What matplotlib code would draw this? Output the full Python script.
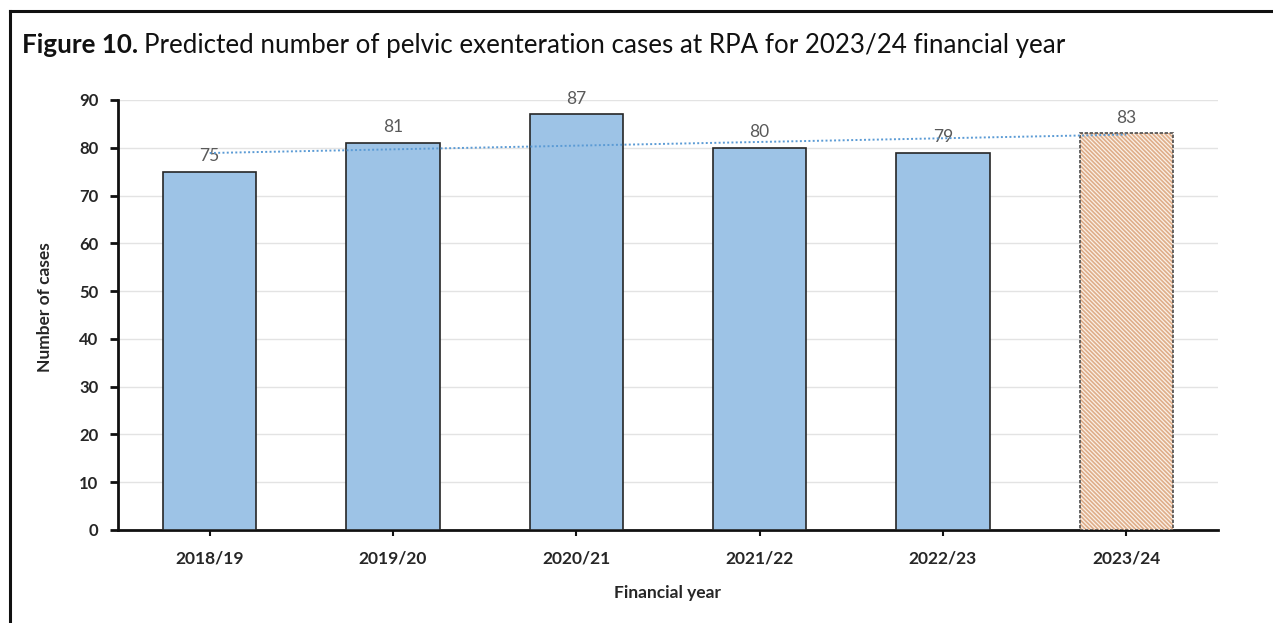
import numpy as np
import matplotlib
matplotlib.use("Agg")
import matplotlib.pyplot as plt
from matplotlib.lines import Line2D

years = ["2018/19", "2019/20", "2020/21", "2021/22", "2022/23", "2023/24"]
cases = [75, 81, 87, 80, 79, 83]
predicted = [False, False, False, False, False, True]
y_ticks = [0, 10, 20, 30, 40, 50, 60, 70, 80, 90]

plt.rcParams["font.family"] = ["Lato", "DejaVu Sans"]
plt.rcParams["hatch.linewidth"] = 0.9

W, H = 1273, 623
fig = plt.figure(figsize=(W / 100, H / 100), dpi=100)
fig.patch.set_facecolor("white")

ax = fig.add_axes([118 / W, 1 - 530 / H, 1100 / W, 430 / H])

x = np.arange(len(years))
bar_w = 0.51
for xi, v, pred in zip(x, cases, predicted):
    if pred:
        ax.bar(xi, v, width=bar_w, color="#DFAE8A", edgecolor="#FBF1E8",
               hatch="\\" * 8, linewidth=0, zorder=3)
        ax.bar(xi, v, width=bar_w, fill=False, edgecolor="#4D4D4D",
               linewidth=1.2, linestyle=(0, (2, 1)), zorder=4)
    else:
        ax.bar(xi, v, width=bar_w, color="#9DC3E6", edgecolor="#262626",
               linewidth=1.2, zorder=3)
    ax.text(xi, v + 3.3, f"{v}", ha="center", va="center",
            fontsize=12.5, color="#595959", zorder=5)

# linear trend across all years
coef = np.polyfit(x, cases, 1)
ax.plot(x, np.polyval(coef, x), linestyle=(0, (1, 1.2)), color="#5B9BD5",
        linewidth=1.4, zorder=6)

ax.set_xlim(-0.5, len(years) - 0.5)
ax.set_ylim(0, 90)
ax.set_yticks(y_ticks)
ax.set_xticks(x)
ax.set_xticklabels(years, fontsize=12.5, fontweight="bold", color="#262626")
ax.set_yticklabels([str(t) for t in y_ticks], fontsize=12, fontweight="bold",
                   color="#262626")
ax.yaxis.grid(True, color="#E3E3E3", linewidth=1.0, zorder=0)
ax.set_axisbelow(True)
for s in ["top", "right"]:
    ax.spines[s].set_visible(False)
for s in ["left", "bottom"]:
    ax.spines[s].set_linewidth(2.0)
    ax.spines[s].set_color("#111111")
ax.tick_params(axis="y", length=6, width=2, pad=8, color="#111111")
ax.tick_params(axis="x", length=4, width=1.5, pad=11, color="#111111")

ax.set_xlabel("Financial year", fontsize=12.5, fontweight="bold",
              color="#262626", labelpad=13)
fig.text(45 / W, 1 - 307 / H, "Number of cases", rotation=90, ha="center",
         va="center", fontsize=12.5, fontweight="bold", color="#262626")

# title: bold figure number followed by regular text
t1 = fig.text(22 / W, 1 - 45 / H, "Figure 10.", fontsize=18.7, fontweight="bold",
              ha="left", va="center", color="#111111")
fig.canvas.draw()
bb = t1.get_window_extent()
fig.text((bb.x1 + 6) / W, 1 - 45 / H,
         "Predicted number of pelvic exenteration cases at RPA for 2023/24 financial year",
         fontsize=18.7, ha="left", va="center", color="#111111")

# frame lines along top and left edges
fig.add_artist(Line2D([10 / W, 1.0], [1 - 11 / H, 1 - 11 / H], color="#111111",
                      linewidth=2.2, transform=fig.transFigure))
fig.add_artist(Line2D([10 / W, 10 / W], [1 - 11 / H, 0], color="#111111",
                      linewidth=2.2, transform=fig.transFigure))

fig.savefig("out.png", dpi=100, facecolor="white")
